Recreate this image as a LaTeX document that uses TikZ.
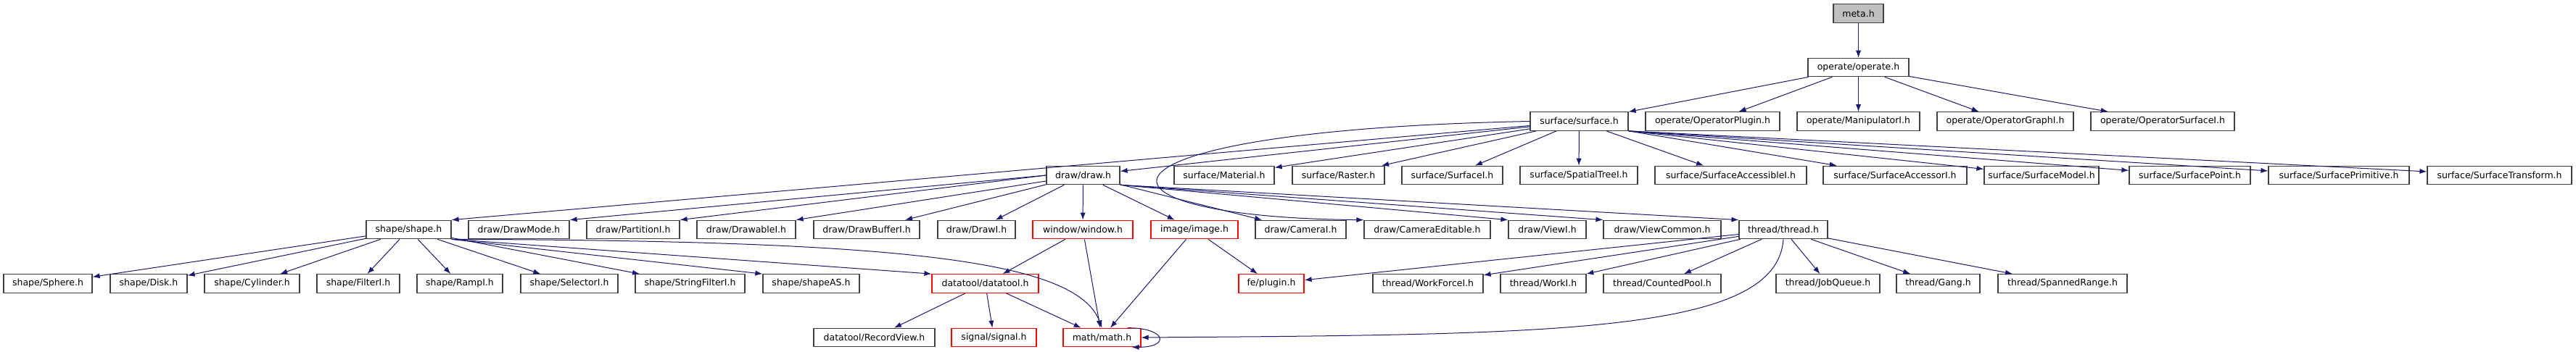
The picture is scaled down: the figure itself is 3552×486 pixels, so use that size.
\documentclass[tikz,border=0pt]{standalone}
\usepackage{fontspec}
\setmainfont{DejaVu Sans}
\usetikzlibrary{arrows.meta}
\definecolor{edgeblue}{RGB}{25,25,112}
\definecolor{boxgrey}{RGB}{64,64,64}
\definecolor{rootgrey}{RGB}{191,191,191}

\begin{document}
\begin{tikzpicture}[x=0.5pt,y=-0.5pt,->,>={Latex[length=5pt,width=3.6pt]},
        link/.style={draw=edgeblue,line width=0.5pt},
        every edge/.style={link},
        hdr/.style={rectangle,draw=boxgrey,fill=white,line width=0.6pt,inner sep=0pt,
          minimum height=12.75pt,minimum width=#1*0.5pt,font=\fontsize{6.25}{7.5}\selectfont},
        nodoc/.style={hdr=#1,draw=red},
        root/.style={hdr=#1,fill=rootgrey}]
        \path[use as bounding box,fill=white] (0,0) rectangle (3552,486);
        % top
        \node[root=69]  (meta)      at (2562.5,18.5)  {meta.h};
        \node[hdr=139]  (operate)   at (2562.5,93)    {operate/operate.h};
        \node[hdr=135]  (surface)   at (2177.5,167.5) {surface/surface.h};
        \node[hdr=185]  (opplugin)  at (2361.5,167.5) {operate/OperatorPlugin.h};
        \node[hdr=169]  (manip)     at (2562.5,167.5) {operate/ManipulatorI.h};
        \node[hdr=188]  (opgraph)   at (2765,167.5)   {operate/OperatorGraphI.h};
        \node[hdr=198]  (opsurface) at (2982,167.5)   {operate/OperatorSurfaceI.h};
        % draw and surface headers
        \node[hdr=101]  (draw)       at (1493.5,242) {draw/draw.h};
        \node[hdr=138]  (material)   at (1688,242)   {surface/Material.h};
        \node[hdr=127]  (raster)     at (1845.5,242) {surface/Raster.h};
        \node[hdr=139]  (surfacei)   at (2002.5,242) {surface/SurfaceI.h};
        \node[hdr=162]  (spatial)    at (2177,242)   {surface/SpatialTreeI.h};
        \node[hdr=209]  (accessible) at (2386.5,242) {surface/SurfaceAccessibleI.h};
        \node[hdr=198]  (accessor)   at (2613,242)   {surface/SurfaceAccessorI.h};
        \node[hdr=158]  (model)      at (2815,242)   {surface/SurfaceModel.h};
        \node[hdr=167]  (point)      at (3019.5,242) {surface/SurfacePoint.h};
        \node[hdr=194]  (primitive)  at (3225,242)   {surface/SurfacePrimitive.h};
        \node[hdr=199]  (transform)  at (3446.5,242) {surface/SurfaceTransform.h};
        % shape, draw, thread
        \node[hdr=117]   (shape)       at (563.5,317)  {shape/shape.h};
        \node[hdr=139]   (drawmode)    at (715.5,317)  {draw/DrawMode.h};
        \node[hdr=128]   (partition)   at (873,317)    {draw/PartitionI.h};
        \node[hdr=136]   (drawable)    at (1029,317)   {draw/DrawableI.h};
        \node[hdr=146]   (drawbuffer)  at (1195,317)   {draw/DrawBufferI.h};
        \node[hdr=107]   (drawi)       at (1346.5,317) {draw/DrawI.h};
        \node[nodoc=138] (window)      at (1493,317)   {window/window.h};
        \node[nodoc=120] (image)       at (1647,317)   {image/image.h};
        \node[hdr=125]   (camerai)     at (1793.5,317) {draw/CameraI.h};
        \node[hdr=174]   (cameditable) at (1968,317)   {draw/CameraEditable.h};
        \node[hdr=107]   (viewi)       at (2133.5,317) {draw/ViewI.h};
        \node[hdr=162]   (viewcommon)  at (2292,317)   {draw/ViewCommon.h};
        \node[hdr=122]   (thread)      at (2459,317)   {thread/thread.h};
        % leaves
        \node[hdr=122]   (sphere)       at (66,391.5)     {shape/Sphere.h};
        \node[hdr=106]   (disk)         at (205,391.5)    {shape/Disk.h};
        \node[hdr=131]   (cylinder)     at (347.5,391.5)  {shape/Cylinder.h};
        \node[hdr=114]   (filter)       at (494,391.5)    {shape/FilterI.h};
        \node[hdr=118]   (ramp)         at (634,391.5)    {shape/RampI.h};
        \node[hdr=134]   (selector)     at (785,391.5)    {shape/SelectorI.h};
        \node[hdr=151]   (stringfilter) at (951.5,391.5)  {shape/StringFilterI.h};
        \node[hdr=133]   (shapeas)      at (1118.5,391.5) {shape/shapeAS.h};
        \node[nodoc=147] (datatool)     at (1358.5,391.5) {datatool/datatool.h};
        \node[nodoc=90]  (plugin)       at (1753,391.5)   {fe/plugin.h};
        \node[hdr=152]   (workforce)    at (1969,391.5)   {thread/WorkForceI.h};
        \node[hdr=118]   (worki)        at (2128,391.5)   {thread/WorkI.h};
        \node[hdr=162]   (countedpool)  at (2292,391.5)   {thread/CountedPool.h};
        \node[hdr=143]   (jobqueue)     at (2520.5,391.5) {thread/JobQueue.h};
        \node[hdr=115]   (gang)         at (2672.5,391.5) {thread/Gang.h};
        \node[hdr=178]   (spanned)      at (2844,391.5)   {thread/SpannedRange.h};
        \node[hdr=167]   (recordview)   at (1205.5,466)   {datatool/RecordView.h};
        \node[nodoc=117] (signal)       at (1370.5,466)   {signal/signal.h};
        \node[nodoc=107] (math)         at (1519.5,466)   {math/math.h};
        \path
          (meta) edge (operate)
          (operate) edge (surface)
          (operate) edge (opplugin)
          (operate) edge (manip)
          (operate) edge (opgraph)
          (operate) edge (opsurface)
          (surface) edge (shape.north east)
          (surface) edge (draw)
          (surface) edge (material)
          (surface) edge (raster)
          (surface) edge (surfacei)
          (surface) edge (spatial)
          (surface) edge (accessible)
          (surface.south east) edge (accessor)
          (surface.south east) edge (model)
          (surface.south east) edge (point)
          (surface.south east) edge (primitive)
          (surface.south east) edge (transform)
          (draw.west) edge (drawmode.north east)
          (draw.west) edge (partition.north east)
          (draw) edge (drawable.north east)
          (draw) edge (drawbuffer)
          (draw) edge (drawi)
          (draw) edge (window)
          (draw) edge (image)
          (draw) edge (camerai)
          (draw.south east) edge (viewi.north west)
          (draw.south east) edge (viewcommon.north west)
          (draw.south east) edge (thread.north west)
          (shape) edge (sphere)
          (shape) edge (disk)
          (shape) edge (cylinder)
          (shape) edge (filter)
          (shape) edge (ramp)
          (shape) edge (selector)
          (shape) edge (stringfilter)
          (shape.south east) edge (shapeas.north west)
          (shape.south east) edge (datatool.north west)
          (window) edge (datatool)
          (window) edge (math)
          (image) edge (math)
          (image) edge (plugin)
          (datatool) edge (recordview)
          (datatool) edge (signal)
          (datatool) edge (math)
          (thread) edge (plugin)
          (thread) edge (workforce)
          (thread) edge (worki)
          (thread) edge (countedpool)
          (thread) edge (jobqueue)
          (thread) edge (gang)
          (thread) edge (spanned)
          ([xshift=-9.5pt]math.north east) edge[out=0,in=0,looseness=5] ([xshift=-6.5pt]math.south east)
          ;
        \draw[link] (surface.west) .. controls (1470,180) and (1470,300) .. (cameditable.north west);
        \draw[link] (shape.south east) .. controls (1250,332) and (1485,360) .. (math.north);
        \draw[link] (thread.south) .. controls (2450,460) and (2150,462) .. (math.east);
      \end{tikzpicture}
\end{document}
